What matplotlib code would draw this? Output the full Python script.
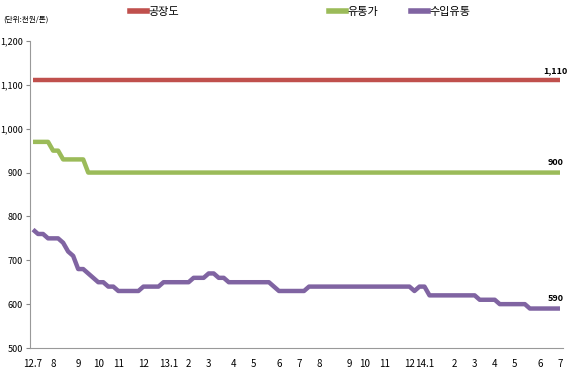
import matplotlib.pyplot as plt
from matplotlib.lines import Line2D

plt.rcParams['font.family'] = ['Noto Sans CJK KR', 'DejaVu Sans']

# 주간 데이터 (2012.7 ~ 2014.7, 단위: 천원/톤)
factory = [1110, 1110, 1110, 1110, 1110, 1110, 1110, 1110, 1110, 1110,
           1110, 1110, 1110, 1110, 1110, 1110, 1110, 1110, 1110, 1110,
           1110, 1110, 1110, 1110, 1110, 1110, 1110, 1110, 1110, 1110,
           1110, 1110, 1110, 1110, 1110, 1110, 1110, 1110, 1110, 1110,
           1110, 1110, 1110, 1110, 1110, 1110, 1110, 1110, 1110, 1110,
           1110, 1110, 1110, 1110, 1110, 1110, 1110, 1110, 1110, 1110,
           1110, 1110, 1110, 1110, 1110, 1110, 1110, 1110, 1110, 1110,
           1110, 1110, 1110, 1110, 1110, 1110, 1110, 1110, 1110, 1110,
           1110, 1110, 1110, 1110, 1110, 1110, 1110, 1110, 1110, 1110,
           1110, 1110, 1110, 1110, 1110, 1110, 1110, 1110, 1110, 1110,
           1110, 1110, 1110, 1110, 1110, 1110]

distrib = [970, 970, 970, 970, 950, 950, 930, 930, 930, 930,
           930, 900, 900, 900, 900, 900, 900, 900, 900, 900,
           900, 900, 900, 900, 900, 900, 900, 900, 900, 900,
           900, 900, 900, 900, 900, 900, 900, 900, 900, 900,
           900, 900, 900, 900, 900, 900, 900, 900, 900, 900,
           900, 900, 900, 900, 900, 900, 900, 900, 900, 900,
           900, 900, 900, 900, 900, 900, 900, 900, 900, 900,
           900, 900, 900, 900, 900, 900, 900, 900, 900, 900,
           900, 900, 900, 900, 900, 900, 900, 900, 900, 900,
           900, 900, 900, 900, 900, 900, 900, 900, 900, 900,
           900, 900, 900, 900, 900, 900]

imported = [770, 760, 760, 750, 750, 750, 740, 720, 710, 680,
            680, 670, 660, 650, 650, 640, 640, 630, 630, 630,
            630, 630, 640, 640, 640, 640, 650, 650, 650, 650,
            650, 650, 660, 660, 660, 670, 670, 660, 660, 650,
            650, 650, 650, 650, 650, 650, 650, 650, 640, 630,
            630, 630, 630, 630, 630, 640, 640, 640, 640, 640,
            640, 640, 640, 640, 640, 640, 640, 640, 640, 640,
            640, 640, 640, 640, 640, 640, 630, 640, 640, 620,
            620, 620, 620, 620, 620, 620, 620, 620, 620, 610,
            610, 610, 610, 600, 600, 600, 600, 600, 600, 590,
            590, 590, 590, 590, 590, 590]

# 월 레이블 (주 인덱스 위치)
month_labels = ['12.7', '8', '9', '10', '11', '12', '13.1', '2', '3', '4', '5', '6',
                '7', '8', '9', '10', '11', '12', '14.1', '2', '3', '4', '5', '6', '7']
month_pos = [0, 4, 9, 13, 17, 22, 27, 31, 35, 40, 44, 49,
             53, 57, 63, 66, 70, 75, 78, 84, 88, 92, 96, 101, 105]

series_names = ['공장도', '유통가', '수입유통']
colors = ['#C0504D', '#9BBB59', '#8064A2']

fig = plt.figure(figsize=(5.68, 3.74), dpi=100)
ax = fig.add_axes([30 / 568, 26 / 374, 533 / 568, 307 / 374])

x = list(range(len(imported)))
handles = []
for vals, name, c in zip([factory, distrib, imported], series_names, colors):
    ln, = ax.plot(x, vals, color=c, lw=3.2, solid_capstyle='butt', label=name)
    handles.append(ln)
    ax.annotate(f'{vals[-1]:,}', (x[-1], vals[-1]), xytext=(-3, 4),
                textcoords='offset points', ha='center', va='bottom',
                fontsize=6.5, fontweight='bold', annotation_clip=False)

ax.set_xlim(-0.6, 105.6)
ax.set_ylim(500, 1200)
ax.set_yticks(range(500, 1201, 100))
ax.set_yticklabels([f'{v:,}' for v in range(500, 1201, 100)])
ax.set_xticks(month_pos)
ax.set_xticklabels(month_labels)
ax.tick_params(axis='x', length=0, labelsize=7, pad=8)
ax.tick_params(axis='y', length=3, labelsize=6.5, color='#888888', pad=2)

for s in ['top', 'right']:
    ax.spines[s].set_visible(False)
for s in ['left', 'bottom']:
    ax.spines[s].set_color('#999999')
    ax.spines[s].set_linewidth(0.8)

# 범례 (엑셀식 배치)
leg_x = [130 / 568, 329 / 568, 411 / 568]
for h, lx in zip(handles, leg_x):
    fig.legend([Line2D([], [], color=h.get_color(), lw=4)], [h.get_label()],
               loc='center left', bbox_to_anchor=(lx, 1 - 12 / 374),
               frameon=False, fontsize=8, handlelength=1.5,
               handletextpad=0.2, borderpad=0, borderaxespad=0)

fig.text(3 / 568, 1 - 20 / 374, '(단위:천원/톤)', fontsize=5.5, va='center', ha='left')

plt.savefig('out.png', dpi=100)
